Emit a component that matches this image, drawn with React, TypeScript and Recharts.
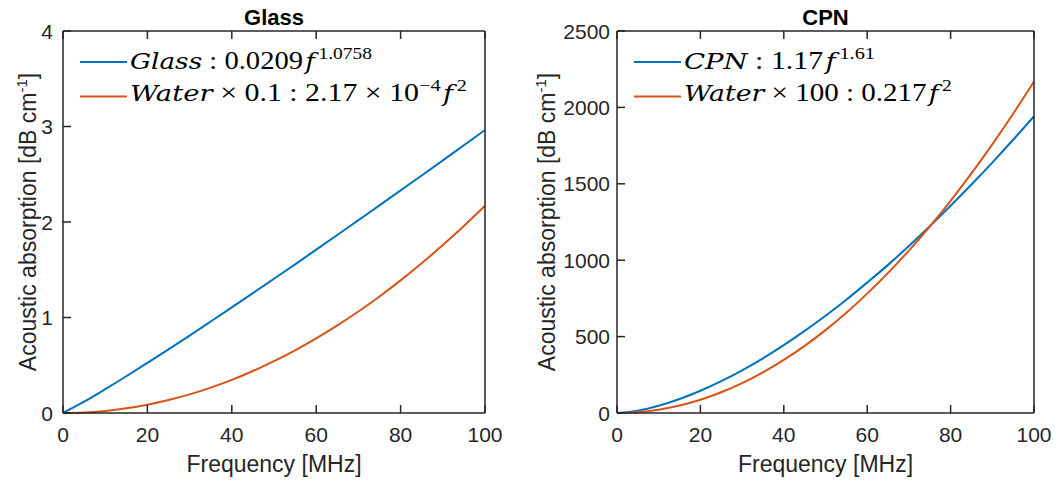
import React from 'react';
import { LineChart, Line, XAxis, YAxis, Customized } from 'recharts';

const frequency = [0, 5, 10, 15, 20, 25, 30, 35, 40, 45, 50, 55, 60, 65, 70, 75, 80, 85, 90, 95, 100];
const glassAbs = [0, 0.118, 0.249, 0.385, 0.525, 0.667, 0.811, 0.958, 1.106, 1.255, 1.406, 1.557, 1.71, 1.864, 2.019, 2.174, 2.331, 2.487, 2.645, 2.804, 2.963];
const waterTenth = [0, 0.0054, 0.0217, 0.0488, 0.0868, 0.1356, 0.195, 0.2658, 0.347, 0.4394, 0.543, 0.6564, 0.781, 0.9168, 1.063, 1.2206, 1.389, 1.5678, 1.758, 1.9584, 2.17];
const cpnAbs = [0, 15.6, 47.7, 91.6, 145.4, 208.4, 279.5, 358.0, 444.2, 537.1, 636.4, 741.4, 853.6, 969.4, 1093, 1222, 1356, 1495, 1639, 1788, 1942];
const waterHundred = [0, 5.4, 21.7, 48.8, 86.8, 135.6, 195.3, 265.8, 347.2, 439.4, 542.5, 656.4, 781.2, 916.8, 1063, 1220.6, 1389, 1567.8, 1758, 1958.4, 2170];

const xTicks = [0, 20, 40, 60, 80, 100];
const glassYTicks = [0, 1, 2, 3, 4];
const cpnYTicks = [0, 500, 1000, 1500, 2000, 2500];

const BLUE = '#0072BD';
const ORANGE = '#D95319';
const AXIS = '#262626';
const SANS = '"Liberation Sans", Arial, Helvetica, sans-serif';
const SERIF = '"Liberation Serif", "Times New Roman", serif';
const SERIF_IT = '"DejaVu Serif", "Liberation Serif", serif';

const glassData = frequency.map((f, i) => ({ f, a: glassAbs[i], b: waterTenth[i] }));
const cpnData = frequency.map((f, i) => ({ f, a: cpnAbs[i], b: waterHundred[i] }));

type Piece = { t: string; italic?: boolean; sup?: boolean };

const glassLegend: Piece[][] = [
  [{ t: 'Glass', italic: true }, { t: ' : 0.0209' }, { t: 'f', italic: true }, { t: '1.0758', sup: true }],
  [{ t: 'Water', italic: true }, { t: ' \u00d7 0.1 : 2.17 \u00d7 10' }, { t: '\u22124', sup: true }, { t: 'f', italic: true }, { t: '2', sup: true }],
];
const cpnLegend: Piece[][] = [
  [{ t: 'CPN', italic: true }, { t: ' : 1.17' }, { t: 'f', italic: true }, { t: '1.61', sup: true }],
  [{ t: 'Water', italic: true }, { t: ' \u00d7 100 : 0.217' }, { t: 'f', italic: true }, { t: '2', sup: true }],
];

function renderPieces(pieces: Piece[]) {
  let raised = false;
  return pieces.map((p, i) => {
    let dy = 0;
    let dx = 0;
    if (p.sup && !raised) { dy = -10; raised = true; }
    else if (!p.sup && raised) { dy = 10; raised = false; }
    if (p.sup && i > 0 && pieces[i - 1].t === 'f') dx = 3;
    if (p.italic && p.t === 'f') dx = 2;
    return (
      <tspan
        key={i}
        dy={dy}
        dx={dx}
        fontFamily={p.italic ? SERIF_IT : SERIF}
        fontStyle={p.italic ? 'italic' : 'normal'}
        fontSize={p.sup ? 17 : p.italic ? 23 : 25}
      >
        {p.t}
      </tspan>
    );
  });
}

const PLOT_TOP = 31;
const PLOT_BOTTOM = 413;
const TICK_LEN = 8;

interface PanelProps {
  left: number;
  title: string;
  data: { f: number; a: number; b: number }[];
  yDomain: [number, number];
  yTicks: number[];
  marginLeft: number;
  marginRight: number;
  yLabelGap: number;
  legend: Piece[][];
  legendWidths: number[];
  legendX: number;
  labelX: number;
}

function Panel(p: PanelProps) {
  const width = 529;
  const height = 483;
  const yAxisW = 50;
  const plotLeft = p.marginLeft + yAxisW;
  const plotRight = width - p.marginRight;
  const cx = (plotLeft + plotRight) / 2;
  const cy = (PLOT_TOP + PLOT_BOTTOM) / 2;

  const BottomTick = (t: any) => (
    <g>
      <line x1={t.x} x2={t.x} y1={PLOT_BOTTOM} y2={PLOT_BOTTOM - TICK_LEN} stroke={AXIS} strokeWidth={1.5} />
      <text x={t.x} y={442} textAnchor="middle" fontFamily={SANS} fontSize={21} fill={AXIS}>
        {t.payload.value}
      </text>
    </g>
  );
  const TopTick = (t: any) => (
    <g>
      <line x1={t.x} x2={t.x} y1={PLOT_TOP} y2={PLOT_TOP + TICK_LEN} stroke={AXIS} strokeWidth={1.5} />
    </g>
  );
  const LeftTick = (t: any) => (
    <g>
      <line x1={plotLeft} x2={plotLeft + TICK_LEN} y1={t.y} y2={t.y} stroke={AXIS} strokeWidth={1.5} />
      <text x={plotLeft - p.yLabelGap} y={t.y} dy="0.36em" textAnchor="end" fontFamily={SANS} fontSize={21} fill={AXIS}>
        {t.payload.value}
      </text>
    </g>
  );
  const RightTick = (t: any) => (
    <g>
      <line x1={plotRight} x2={plotRight - TICK_LEN} y1={t.y} y2={t.y} stroke={AXIS} strokeWidth={1.5} />
    </g>
  );

  const Overlay = () => (
    <g>
      <text x={cx} y={25} textAnchor="middle" fontFamily={SANS} fontWeight="bold" fontSize={22} fill="#000">
        {p.title}
      </text>
      <text x={cx} y={472} textAnchor="middle" fontFamily={SANS} fontSize={23} fill={AXIS}>
        Frequency [MHz]
      </text>
      <text
        x={p.labelX}
        y={cy}
        textAnchor="middle"
        fontFamily={SANS}
        fontSize={23}
        fill={AXIS}
        transform={`rotate(-90, ${p.labelX}, ${cy})`}
      >
        Acoustic absorption [dB cm<tspan dy={-9} fontSize={15}>-1</tspan><tspan dy={9}>]</tspan>
      </text>
      {p.legend.map((line, i) => {
        const yLine = i === 0 ? 62 : 96.5;
        const yBase = i === 0 ? 68.5 : 101;
        return (
          <g key={i}>
            <line x1={p.legendX} x2={p.legendX + 47} y1={yLine} y2={yLine} stroke={i === 0 ? BLUE : ORANGE} strokeWidth={2} />
            <text
              x={p.legendX + 50}
              y={yBase}
              fill="#000"
              textLength={p.legendWidths[i]}
              lengthAdjust="spacingAndGlyphs"
            >
              {renderPieces(line)}
            </text>
          </g>
        );
      })}
    </g>
  );

  return (
    <div style={{ position: 'absolute', left: p.left, top: 0, width, height }}>
      <LineChart
        width={width}
        height={height}
        data={p.data}
        margin={{ top: PLOT_TOP - 1, right: p.marginRight - 1, bottom: height - PLOT_BOTTOM - 40, left: p.marginLeft }}
      >
        <XAxis
          dataKey="f"
          type="number"
          domain={[0, 100]}
          ticks={xTicks}
          height={40}
          tickLine={false}
          stroke={AXIS}
          strokeWidth={1.5}
          tick={BottomTick}
          interval={0}
        />
        <XAxis
          xAxisId="top"
          orientation="top"
          dataKey="f"
          type="number"
          domain={[0, 100]}
          ticks={xTicks}
          height={1}
          tickLine={false}
          tick={TopTick}
          stroke={AXIS}
          strokeWidth={1.5}
          interval={0}
        />
        <YAxis
          type="number"
          domain={p.yDomain}
          ticks={p.yTicks}
          width={yAxisW}
          tickLine={false}
          stroke={AXIS}
          strokeWidth={1.5}
          tick={LeftTick}
          interval={0}
        />
        <YAxis
          yAxisId="right"
          orientation="right"
          type="number"
          domain={p.yDomain}
          ticks={p.yTicks}
          width={1}
          tickLine={false}
          tick={RightTick}
          stroke={AXIS}
          strokeWidth={1.5}
          interval={0}
        />
        <Line dataKey="a" type="monotone" stroke={BLUE} strokeWidth={2} dot={false} isAnimationActive={false} />
        <Line dataKey="b" type="monotone" stroke={ORANGE} strokeWidth={2} dot={false} isAnimationActive={false} />
        <Customized component={Overlay} />
      </LineChart>
    </div>
  );
}

export default function App() {
  return (
    <div style={{ position: 'absolute', left: 0, top: 0, width: 1058, height: 483, background: '#fff' }}>
      <Panel
        left={0}
        title="Glass"
        data={glassData}
        yDomain={[0, 4]}
        yTicks={glassYTicks}
        marginLeft={13}
        marginRight={44}
        yLabelGap={10}
        legend={glassLegend}
        legendWidths={[242, 337]}
        legendX={80}
        labelX={36}
      />
      <Panel
        left={529}
        title="CPN"
        data={cpnData}
        yDomain={[0, 2500]}
        yTicks={cpnYTicks}
        marginLeft={38}
        marginRight={24}
        yLabelGap={7}
        legend={cpnLegend}
        legendWidths={[191, 268]}
        legendX={105}
        labelX={26}
      />
    </div>
  );
}
